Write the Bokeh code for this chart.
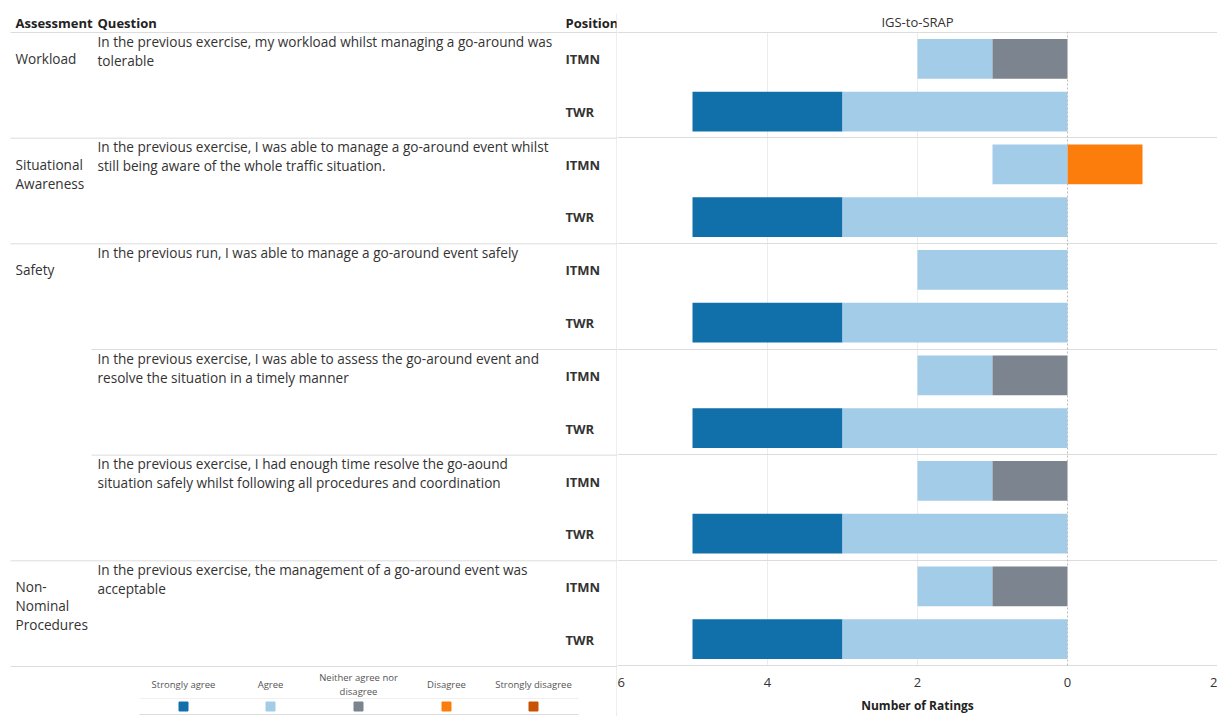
import numpy as np
from bokeh.plotting import figure
from bokeh.models import Range1d, FixedTicker, Span, ColumnDataSource
from bokeh.layouts import row, column
from bokeh.embed import file_html
from bokeh.resources import INLINE
from bokeh.core.properties import value

# ---------------- data ----------------
assessments = ["Workload", "Situational\nAwareness", "Safety", "", "", "Non-\nNominal\nProcedures"]
questions = [
    "In the previous exercise, my workload whilst managing a go-around was\ntolerable",
    "In the previous exercise, I was able to manage a go-around event whilst\nstill being aware of the whole traffic situation.",
    "In the previous run, I was able to manage a go-around event safely",
    "In the previous exercise, I was able to assess the go-around event and\nresolve the situation in a timely manner",
    "In the previous exercise, I had enough time resolve the go-aound\nsituation safely whilst following all procedures and coordination",
    "In the previous exercise, the management of a go-around event was\nacceptable",
]
positions = ["ITMN", "TWR"]
categories = ["Strongly agree", "Agree", "Neither agree nor\ndisagree", "Disagree", "Strongly disagree"]
cat_colors = ["#1170aa", "#a3cce9", "#7b848f", "#fc7d0b", "#c85200"]
# one value per (question, position) row: ITMN, TWR for each question
strongly_agree    = [0, 2, 0, 2, 0, 2, 0, 2, 0, 2, 0, 2]
agree             = [1, 3, 1, 3, 2, 3, 1, 3, 1, 3, 1, 3]
neither           = [1, 0, 0, 0, 0, 0, 1, 0, 1, 0, 1, 0]
disagree          = [0, 0, 1, 0, 0, 0, 0, 0, 0, 0, 0, 0]
strongly_disagree = [0, 0, 0, 0, 0, 0, 0, 0, 0, 0, 0, 0]
x_ticks = [6, 4, 2, 0, -2]
header = ["Assessment", "Question", "Position"]
chart_title = "IGS-to-SRAP"
x_title = "Number of Ratings"

# ---------------- layout constants ----------------
W, H = 1217, 716
SPLIT = 617
TOP, BOT = 32, 666
NROWS = len(questions) * len(positions)
RH = (BOT - TOP) / NROWS
FONT = "Open Sans"
TXT = "#333333"
LINE = "#dcdcdc"
LH = 1.0


def ry(px):
    return (px - TOP) / RH


# ---------------- left table figure ----------------
left = figure(width=SPLIT, height=H, x_range=Range1d(0, SPLIT),
              y_range=Range1d(ry(H), ry(0)), output_backend="svg",
              toolbar_location=None, x_axis_location=None, y_axis_location=None,
              min_border_left=0, min_border_right=0, min_border_top=0, min_border_bottom=0)
left.grid.visible = False
left.outline_line_color = None

# headers
left.text(x=[15, 97, 565], y=[ry(22)] * 3, text=header, text_font=value(FONT),
          text_font_size="13px", text_font_style="bold", text_color="#222222",
          text_baseline="middle")

# assessment labels (first line centred on ITMN row)
a_idx = [i for i, a in enumerate(assessments) if a]
left.text(x=[15] * len(a_idx), y=[2 * i + 0.5 - ry(TOP + 10) for i in a_idx],
          text=[assessments[i] for i in a_idx], text_font=value(FONT),
          text_font_size="13.6px", text_color=TXT, text_baseline="top",
          text_line_height=LH)

# questions
left.text(x=[97] * len(questions), y=[2 * i + ry(TOP - 1) for i in range(len(questions))],
          text=questions, text_font=value(FONT), text_font_size="13.6px",
          text_color=TXT, text_baseline="top", text_line_height=LH)

# positions
rows_y = [r + 0.5 for r in range(NROWS)]
pos_text = [positions[r % 2] for r in range(NROWS)]
left.text(x=[565] * NROWS, y=rows_y, text=pos_text, text_font=value(FONT),
          text_font_size="13px", text_font_style="bold", text_color=TXT,
          text_baseline="middle")

# separators
bounds = list(range(0, NROWS + 1, 2))
starts = []
for b in bounds:
    q = b // 2
    if 0 < q < len(assessments) and assessments[q] == "":
        starts.append(91)
    else:
        starts.append(10)
left.segment(x0=starts, x1=[SPLIT] * len(bounds), y0=bounds, y1=bounds,
             line_color=LINE, line_width=1)
left.segment(x0=[616.5], x1=[616.5], y0=[ry(13)], y1=[ry(H)], line_color=LINE, line_width=1)

# legend
leg_x = [183, 270, 358, 446, 533]
left.text(x=leg_x, y=[ry(684)] * 5, text=categories, text_font=value(FONT),
          text_font_size="9.5px", text_color="#555555", text_align="center",
          text_baseline="middle", text_line_height=1.1)
left.scatter(x=leg_x, y=[ry(706)] * 5, marker="square", size=9, color=cat_colors)
left.segment(x0=[139], x1=[578], y0=[ry(698)], y1=[ry(698)], line_color="#f0f0f0")
left.segment(x0=[139], x1=[578], y0=[ry(714)], y1=[ry(714)], line_color=LINE)

# ---------------- right bar figure ----------------
right = figure(width=W - SPLIT, height=H, x_range=Range1d(x_ticks[0], x_ticks[-1]),
               y_range=Range1d(ry(BOT + 1), ry(TOP - 1)), output_backend="svg",
               toolbar_location=None, y_axis_location=None,
               min_border_left=0, min_border_right=0, min_border_top=31, min_border_bottom=49)
right.outline_line_color = None
right.title.text = chart_title
right.title.align = "center"
right.title.text_font = FONT
right.title.text_font_size = "13px"
right.title.text_font_style = "normal"
right.title.text_color = TXT
right.title.standoff = 2

xa = right.xaxis[0]
xa.ticker = FixedTicker(ticks=x_ticks)
xa.major_label_overrides = {t: str(abs(t)) for t in x_ticks}
xa.axis_line_color = None
xa.major_tick_line_color = None
xa.minor_tick_line_color = None
xa.major_tick_out = 0
xa.major_tick_in = 0
xa.minor_tick_out = 0
xa.major_label_text_font = FONT
xa.major_label_text_font_size = "13px"
xa.major_label_text_color = TXT
xa.major_label_standoff = 11
xa.axis_label = x_title
xa.axis_label_text_font = FONT
xa.axis_label_text_font_size = "12px"
xa.axis_label_text_font_style = "bold"
xa.axis_label_text_color = "#222222"
xa.axis_label_standoff = 7

right.xgrid.ticker = FixedTicker(ticks=[t for t in x_ticks[1:-1] if t != 0])
right.xgrid.grid_line_color = "#ececec"
right.ygrid.ticker = FixedTicker(ticks=bounds)
right.ygrid.grid_line_color = LINE
right.add_layout(Span(location=0, dimension="height", line_color="#bbbbbb",
                      line_dash="2 2", line_width=1))

# stacked diverging bars
sa = np.array(strongly_agree, float)
ag = np.array(agree, float)
ne = np.array(neither, float)
di = np.array(disagree, float)
sd = np.array(strongly_disagree, float)
segments = [
    (ne + ag, ne + ag + sa),   # strongly agree
    (ne, ne + ag),             # agree
    (np.zeros(NROWS), ne),     # neither
    (np.zeros(NROWS), -di),    # disagree
    (-di, -di - sd),           # strongly disagree
]
for (l, r), c in zip(segments, cat_colors):
    mask = (r - l) != 0
    src = ColumnDataSource(dict(y=np.array(rows_y)[mask], left=l[mask], right=r[mask]))
    right.hbar(y="y", left="left", right="right", height=0.75, source=src,
               fill_color=c, line_color=None)

layout = row(column(left), column(right), spacing=0)
open("out.html", "w").write(file_html(layout, INLINE))
